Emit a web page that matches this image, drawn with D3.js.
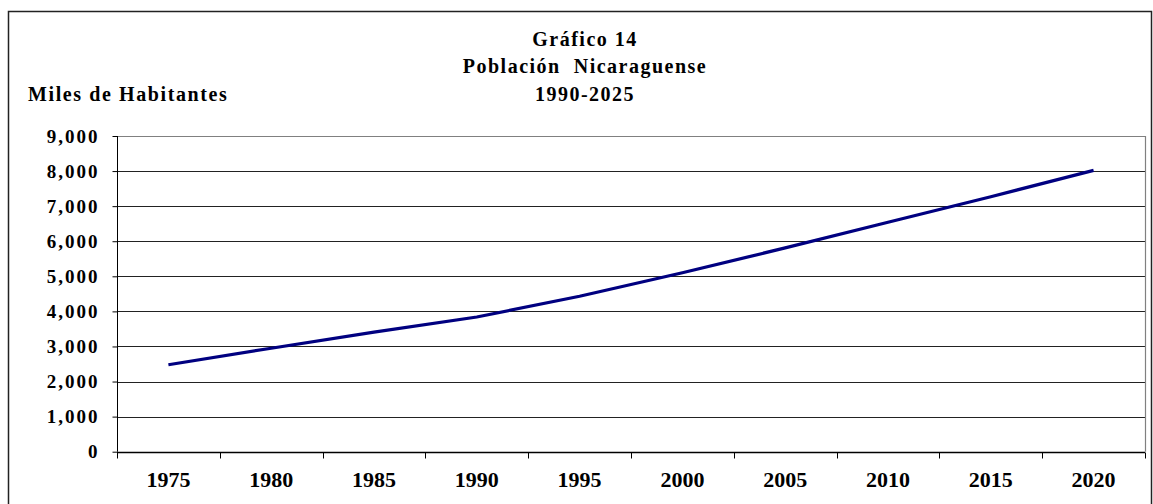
<!DOCTYPE html>
<html>
<head>
<meta charset="utf-8">
<script src="https://cdn.jsdelivr.net/npm/d3@7"></script>
<style>
  body { margin: 0; background: #fff; }
  svg { display: block; font-family: "Liberation Serif", "Times New Roman", serif; font-weight: bold; }
</style>
</head>
<body>
<svg width="1153" height="504"></svg>
<script>
// data (miles de habitantes)
var years = ["1975", "1980", "1985", "1990", "1995", "2000", "2005", "2010", "2015", "2020"];
var population = [2480, 2950, 3410, 3840, 4430, 5100, 5810, 6540, 7270, 8020];
var yTicks = [0, 1000, 2000, 3000, 4000, 5000, 6000, 7000, 8000, 9000];
var titleLines = ["Gráfico 14", "Población  Nicaraguense", "1990-2025"];

(function () {
  var svg = d3.select("svg");

  var plotLeft = 117, plotRight = 1145, plotTop = 136, plotBottom = 451.7;

  var x = d3.scaleBand().domain(years).range([plotLeft, plotRight]);
  var y = d3.scaleLinear().domain([0, 9000]).range([plotBottom, plotTop]);

  // outer frame
  svg.append("rect")
      .attr("x", 8.5).attr("y", 11.5)
      .attr("width", 1143).attr("height", 520)
      .attr("fill", "none").attr("stroke", "#222").attr("stroke-width", 1.5);

  // titles
  svg.selectAll(".title")
    .data(titleLines)
    .enter().append("text")
      .attr("class", "title")
      .attr("x", 585)
      .attr("y", function(d, i) { return 45.5 + i * 27.7; })
      .attr("text-anchor", "middle")
      .style("font-size", "20px")
      .style("letter-spacing", "1.5px")
      .style("white-space", "pre")
      .text(function(d) { return d; });

  svg.append("text")
      .attr("x", 28)
      .attr("y", 101)
      .style("font-size", "20px")
      .style("letter-spacing", "1.6px")
      .text("Miles de Habitantes");

  // gridlines
  svg.append("g")
    .selectAll("line")
    .data(yTicks.slice(1))
    .enter().append("line")
      .attr("x1", plotLeft).attr("x2", plotRight)
      .attr("y1", function(d) { return Math.round(y(d)) + 0.5; })
      .attr("y2", function(d) { return Math.round(y(d)) + 0.5; })
      .attr("stroke", function(d) { return d === 9000 ? "#808080" : "#222"; })
      .attr("stroke-width", 1);

  // right border of plot area
  svg.append("line")
      .attr("x1", plotRight + 0.5).attr("x2", plotRight + 0.5)
      .attr("y1", y(9000)).attr("y2", plotBottom)
      .attr("stroke", "#808080").attr("stroke-width", 1.2);

  // y axis
  var yAxis = svg.append("g")
      .attr("transform", "translate(" + (plotLeft + 0.5) + ",0)")
      .call(d3.axisLeft(y).tickValues(yTicks).tickFormat(d3.format(",")).tickSize(5).tickPadding(15));
  yAxis.select(".domain").attr("stroke", "#000").attr("d", "M0," + plotTop + "V" + plotBottom);
  yAxis.selectAll(".tick line").attr("stroke", "#000");
  yAxis.selectAll(".tick text")
      .attr("fill", "#000")
      .style("font-family", "'Liberation Serif', serif")
      .style("font-weight", "bold")
      .style("font-size", "19px")
      .style("letter-spacing", "2px")
      .attr("dx", "2px");

  // x axis labels at category centres
  var xAxis = svg.append("g")
      .attr("transform", "translate(0," + (Math.round(plotBottom) + 0.5) + ")")
      .call(d3.axisBottom(x).tickSize(0).tickPadding(19));
  xAxis.select(".domain").attr("stroke", "#000").attr("stroke-width", 1.5).attr("d", "M" + plotLeft + ",0H" + plotRight);
  xAxis.selectAll(".tick text")
      .attr("fill", "#000")
      .style("font-family", "'Liberation Serif', serif")
      .style("font-weight", "bold")
      .style("font-size", "22px");

  // x tick marks between categories
  var bounds = years.map(function(d) { return x(d); }).concat([plotRight]);
  xAxis.selectAll(".bound")
    .data(bounds)
    .enter().append("line")
      .attr("class", "bound")
      .attr("x1", function(d) { return Math.round(d) + 0.5; })
      .attr("x2", function(d) { return Math.round(d) + 0.5; })
      .attr("y1", 0).attr("y2", 6)
      .attr("stroke", "#000");

  // series line
  var line = d3.line()
      .x(function(d, i) { return x(years[i]) + x.bandwidth() / 2; })
      .y(function(d) { return y(d); });

  svg.append("path")
      .datum(population)
      .attr("d", line)
      .attr("fill", "none")
      .attr("stroke", "#000080")
      .attr("stroke-width", 3.2);
})();
</script>
</body>
</html>
